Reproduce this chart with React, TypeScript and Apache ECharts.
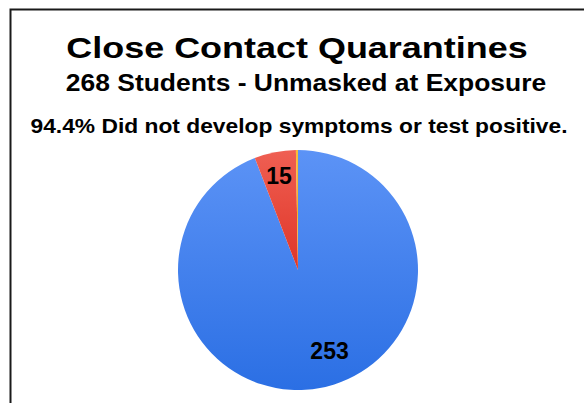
import React, { useEffect, useRef } from "react";
import * as echarts from "echarts";

const titleText = "Close Contact Quarantines";
const subtitleText = "268 Students - Unmasked at Exposure";
const noteText = "94.4% Did not develop symptoms or test positive.";

const categories = ["No symptoms / negative", "Symptoms or positive", "Other"];
const values = [253, 15, 0];
const topColors = ["#5c93f6", "#ef5f53", "#f9bd3a"];
const bottomColors = ["#2b6fe4", "#df3527", "#f2a818"];
const labelShifts = [
  [20, 19],
  [-7, -32],
  [0, 0],
];

const FONT = "'Liberation Sans', Arial, sans-serif";

function headText(text: string, x: number, y: number, size: number, sx: number) {
  return {
    type: "text",
    x,
    y,
    scaleX: sx,
    style: {
      text,
      fontFamily: FONT,
      fontWeight: "bold",
      fontSize: size,
      fill: "#000",
      align: "center",
      verticalAlign: "top",
    },
  };
}

export default function App() {
  const ref = useRef<HTMLDivElement>(null);
  useEffect(() => {
    document.body.style.margin = "0";
    if (!ref.current) return;
    const chart = echarts.init(ref.current, undefined, { renderer: "svg" });
    const data = values.map((v, i) => ({
      name: categories[i],
      value: v,
      itemStyle: {
        color: new echarts.graphic.LinearGradient(0, 0, 0, 1, [
          { offset: 0, color: topColors[i] },
          { offset: 1, color: bottomColors[i] },
        ]),
      },
      label: { show: v > 0 },
    }));
    chart.setOption({
      animation: false,
      backgroundColor: "#ffffff",
      graphic: [
        headText(titleText, 297, 33, 29, 1.24),
        headText(subtitleText, 306, 72, 23, 1.15),
        headText(noteText, 299, 116, 20, 1.14),
        {
          type: "rect",
          shape: { x: 10.5, y: 9.5, width: 620, height: 420 },
          style: { fill: "none", stroke: "#1a1a1a", lineWidth: 2 },
          z: 10,
        },
      ],
      series: [
        {
          type: "pie",
          center: [298, 270],
          radius: [0, 120],
          startAngle: 90,
          clockwise: true,
          minAngle: 1,
          avoidLabelOverlap: false,
          label: {
            show: true,
            position: "inside",
            formatter: "{c}",
            fontFamily: FONT,
            fontWeight: "bold",
            fontSize: 23,
            color: "#000",
          },
          labelLine: { show: false },
          labelLayout: (params: any) => {
            const s = labelShifts[params.dataIndex] || [0, 0];
            return { dx: s[0], dy: s[1] };
          },
          itemStyle: { borderWidth: 0 },
          emphasis: { disabled: true },
          data,
        },
      ],
    });
    return () => chart.dispose();
  }, []);
  return <div ref={ref} style={{ width: 584, height: 403 }} />;
}
